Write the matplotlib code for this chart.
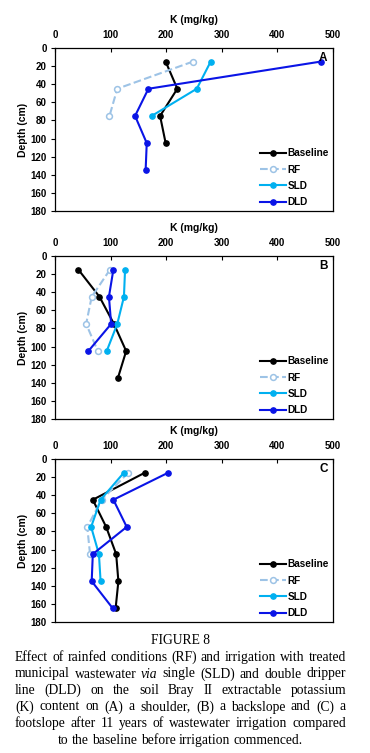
import matplotlib

matplotlib.use("Agg")
import matplotlib.pyplot as plt

plt.rcParams["font.family"] = ["Liberation Sans", "DejaVu Sans"]
plt.rcParams["font.weight"] = "bold"

depth = [15, 45, 75, 105, 135, 165]

# panel A - shoulder
a_base = [199, 220, 189, 199]
a_rf = [248, 112, 98]
a_sld = [280, 255, 174]
a_dld = [478, 168, 144, 165, 163]

# panel B - backslope
b_base = [42, 80, 106, 128, 113]
b_rf = [99, 66, 56, 77]
b_sld = [126, 124, 112, 93]
b_dld = [105, 97, 101, 60]

# panel C - footslope
c_base = [162, 68, 92, 110, 114, 109]
c_rf = [132, 84, 58, 63]
c_sld = [124, 82, 65, 79, 82]
c_dld = [204, 105, 129, 68, 66, 104]

panels = [
    ("A", a_base, a_rf, a_sld, a_dld),
    ("B", b_base, b_rf, b_sld, b_dld),
    ("C", c_base, c_rf, c_sld, c_dld),
]

caption_title = "FIGURE 8"
caption_lines = [
    "Effect of rainfed conditions (RF) and irrigation with treated",
    "municipal wastewater *via* single (SLD) and double dripper",
    "line (DLD) on the soil Bray II extractable potassium",
    "(K) content on (A) a shoulder, (B) a backslope and (C) a",
    "footslope after 11 years of wastewater irrigation compared",
    "to the baseline before irrigation commenced.",
]

W, H = 370, 753
fig = plt.figure(figsize=(W / 100, H / 100), dpi=100)

tops = [48, 256, 459]
for (lab, base, rf, sld, dld), top in zip(panels, tops):
    ax = fig.add_axes([55 / W, 1 - (top + 163) / H, 278 / W, 163 / H])
    ax.plot(base, depth[:len(base)], "-o", color="black", lw=1.5, ms=3.8, label="Baseline")
    ax.plot(rf, depth[:len(rf)], "--o", color="#9DC3E6", lw=1.5, ms=4.2,
            mfc="white", mew=1.1, label="RF")
    ax.plot(sld, depth[:len(sld)], "-o", color="#00B0F0", lw=1.5, ms=3.8, label="SLD")
    ax.plot(dld, depth[:len(dld)], "-o", color="#0A14E6", lw=1.5, ms=3.8, label="DLD")
    ax.set_xlim(0, 500)
    ax.set_ylim(180, 0)
    ax.set_xticks(range(0, 501, 100))
    ax.set_yticks(range(0, 181, 20))
    ax.xaxis.tick_top()
    ax.xaxis.set_label_position("top")
    ax.tick_params(axis="x", direction="in", length=3, labelsize=7, pad=6)
    ax.tick_params(axis="y", direction="out", length=3, labelsize=7, pad=3)
    for t in ax.get_xticklabels() + ax.get_yticklabels():
        t.set_fontweight("bold")
    ax.set_xlabel("K (mg/kg)", fontsize=7.5, fontweight="bold", labelpad=5)
    ax.set_ylabel("Depth (cm)", fontsize=7.5, fontweight="bold", labelpad=2)
    for s in ax.spines.values():
        s.set_linewidth(0.9)
    ax.text(0.965, 0.94, lab, transform=ax.transAxes, ha="center", va="center",
            fontsize=8.5, fontweight="bold")
    leg = ax.legend(loc="lower right", frameon=False, fontsize=7.2, handlelength=2.6,
                    labelspacing=0.62, handletextpad=0.2, borderaxespad=0.2,
                    borderpad=0.2)
    for t in leg.get_texts():
        t.set_fontweight("bold")

# caption (justified, serif)
serif = ["Liberation Serif", "DejaVu Serif"]
fs = 9.8
left, right = 15, 346
fig.text(180.5 / W, 1 - 644 / H, caption_title, ha="center", va="baseline",
         family=serif, fontsize=fs, fontweight="normal")
r = fig.canvas.get_renderer()


def word_width(w, italic):
    t = fig.text(0, 0, w, family=serif, fontsize=fs, fontweight="normal",
                 style="italic" if italic else "normal")
    wd = t.get_window_extent(r).width
    t.remove()
    return wd


ys = [661, 677.5, 694, 710.5, 727, 744]
for i, (line, y) in enumerate(zip(caption_lines, ys)):
    words = line.split(" ")
    items = [(w.strip("*"), w.startswith("*")) for w in words]
    widths = [word_width(w, it) for w, it in items]
    last = i == len(caption_lines) - 1
    if last:
        sp = word_width("a b", False) - word_width("ab", False)
        total = sum(widths) + sp * (len(items) - 1)
        x = 180.5 - total / 2
    else:
        sp = (right - left - sum(widths)) / (len(items) - 1)
        x = left
    for (w, it), wd in zip(items, widths):
        fig.text(x / W, 1 - y / H, w, ha="left", va="baseline", family=serif,
                 fontsize=fs, fontweight="normal", style="italic" if it else "normal")
        x += wd + sp

fig.savefig("out.png", dpi=100)
